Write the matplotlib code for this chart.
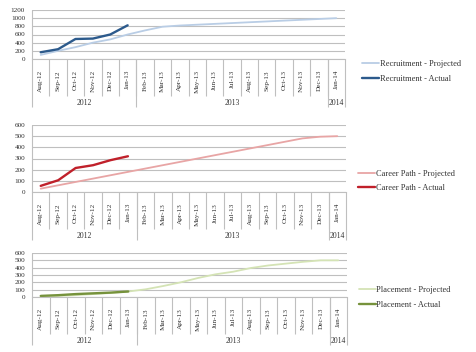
import numpy as np
import matplotlib
matplotlib.use("Agg")
import matplotlib.pyplot as plt
import matplotlib.transforms as mtransforms

plt.rcParams["font.family"] = ["Liberation Serif", "DejaVu Serif"]

months = ["Aug-12", "Sep-12", "Oct-12", "Nov-12", "Dec-12", "Jan-13",
          "Feb-13", "Mar-13", "Apr-13", "May-13", "Jun-13", "Jul-13",
          "Aug-13", "Sep-13", "Oct-13", "Nov-13", "Dec-13", "Jan-14"]
years = ["2012", "2013", "2014"]
year_spans = [(0, 5), (6, 16), (17, 17)]

recruit_proj = [100, 200, 290, 400, 480, 600, 700, 790, 820, 840, 860, 880,
                900, 920, 940, 960, 980, 1000]
recruit_act = [165, 240, 490, 500, 600, 825]

career_proj = [30, 60, 90, 120, 150, 180, 210, 240, 270, 300, 330, 360,
               390, 420, 450, 480, 495, 500]
career_act = [55, 105, 215, 240, 285, 320]

place_proj = [10, 15, 25, 40, 55, 75, 105, 150, 200, 260, 310, 345,
              395, 430, 455, 480, 500, 500]
place_act = [15, 25, 40, 50, 60, 75]

W, H = 476, 352
GRID = "#bfbfbf"
TXT = "#333333"

charts = [
    # name, projected, actual, colours, ymax, step, axes box in px (left, top, right, bottom), legend y/x px
    ("Recruitment", recruit_proj, recruit_act, "#b9cde5", "#2c5a8c", 1200, 200, (32, 10, 345, 59), 71.5, 362),
    ("Career Path", career_proj, career_act, "#e8a5a5", "#c0202a", 600, 100, (32, 125, 346, 192), 181, 358),
    ("Placement", place_proj, place_act, "#d4e3b5", "#76923c", 600, 100, (32, 253, 347, 297), 297.5, 359),
]

fig = plt.figure(figsize=(W / 100, H / 100), dpi=100)

for name, proj, act, c_proj, c_act, ymax, step, box, leg_y, leg_x in charts:
    l, t, r, b = box
    ax = fig.add_axes([l / W, 1 - b / H, (r - l) / W, (b - t) / H])
    hpx = b - t
    x = np.arange(len(months))
    ax.plot(x, proj, color=c_proj, lw=1.3, label=f"{name} - Projected", solid_capstyle="round")
    ax.plot(x[:len(act)], act, color=c_act, lw=1.7, label=f"{name} - Actual", solid_capstyle="round")

    ax.set_xlim(-0.5, len(months) - 0.5)
    ax.set_ylim(0, ymax)
    ax.set_yticks(np.arange(0, ymax + 1, step))
    ax.yaxis.grid(True, color=GRID, lw=0.8)
    ax.set_axisbelow(True)
    for s in ["top", "right", "left"]:
        ax.spines[s].set_visible(False)
    ax.spines["bottom"].set_color(GRID)
    ax.set_xticks(x)
    ax.set_xticklabels(months, rotation=90, fontsize=5.2, color=TXT)
    ax.tick_params(axis="x", length=0, pad=8)
    ax.tick_params(axis="y", length=0, pad=5, labelsize=5.2, labelcolor=TXT)

    # two-level category axis: month cells, then year cells
    trans = mtransforms.blended_transform_factory(ax.transData, ax.transAxes)
    cat_len = -37 / hpx
    year_len = -48 / hpx
    bounds = np.arange(len(months) - 1) + 0.5
    ax.vlines(bounds, cat_len, 0, transform=trans, color=GRID, lw=0.8, clip_on=False)
    year_bounds = [e + 0.5 for _, e in year_spans]
    ax.vlines(year_bounds, year_len, 0, transform=trans, color=GRID, lw=0.8, clip_on=False)
    ax.vlines([-0.5], year_len, 1, transform=trans, color=GRID, lw=0.8, clip_on=False)
    for yr, (s0, e0) in zip(years, year_spans):
        ax.text((s0 + e0) / 2, -44 / hpx, yr, transform=trans, ha="center", va="center",
                fontsize=5.5, color=TXT)

    fig.legend(*ax.get_legend_handles_labels(), loc="center left",
               bbox_to_anchor=(leg_x / W, 1 - leg_y / H), frameon=False, fontsize=6,
               handlelength=2.0, handletextpad=0.1, labelspacing=0.8, borderpad=0,
               borderaxespad=0, labelcolor=TXT)

fig.savefig("out.png", dpi=100)
